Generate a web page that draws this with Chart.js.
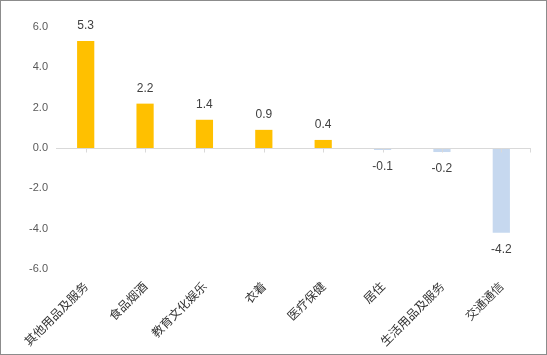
<!DOCTYPE html>
<html>
<head>
<meta charset="utf-8">
<script src="https://cdn.jsdelivr.net/npm/chart.js@4/dist/chart.umd.min.js"></script>
<style>
  html, body { margin: 0; padding: 0; background: #fff; }
  #wrap { position: absolute; left: 0; top: 0; width: 547px; height: 355px; box-sizing: border-box; border: 1px solid #8c8c8c; background: #fff; }
  canvas { display: block; }
</style>
</head>
<body>
<div id="wrap"><canvas id="c"></canvas></div>
<script>
const categories = ["其他用品及服务", "食品烟酒", "教育文化娱乐", "衣着", "医疗保健", "居住", "生活用品及服务", "交通通信"];
const values = [5.3, 2.2, 1.4, 0.9, 0.4, -0.1, -0.2, -4.2];
const yTicks = [-6, -4, -2, 0, 2, 4, 6];

const POS_COLOR = "#FFC000";
const NEG_COLOR = "#C6D8EF";

const dataLabels = {
  id: "dataLabels",
  afterDatasetsDraw(chart) {
    const ctx = chart.ctx;
    const meta = chart.getDatasetMeta(0);
    ctx.save();
    ctx.font = "12px 'Liberation Sans', Arial, sans-serif";
    ctx.fillStyle = "#404040";
    ctx.textAlign = "center";
    ctx.textBaseline = "middle";
    meta.data.forEach((bar, i) => {
      const v = values[i];
      const y = v >= 0 ? bar.y - 15 : bar.y + 17;
      ctx.fillText(v.toFixed(1), bar.x, y);
    });
    ctx.restore();
  }
};

const zeroTicks = {
  id: "zeroTicks",
  afterDatasetsDraw(chart) {
    const ctx = chart.ctx;
    const xs = chart.scales.x;
    const y0 = Math.round(chart.scales.y.getPixelForValue(0)) + 0.5;
    ctx.save();
    ctx.strokeStyle = "#d9d9d9";
    ctx.lineWidth = 1;
    ctx.beginPath();
    ctx.moveTo(chart.chartArea.left, y0);
    ctx.lineTo(chart.chartArea.right, y0);
    for (let i = 0; i < categories.length; i++) {
      const x = Math.round(xs.getPixelForTick(i)) + 0.5;
      ctx.moveTo(x, y0);
      ctx.lineTo(x, y0 + 4);
    }
    const xr = Math.round(chart.chartArea.right) - 0.5;
    ctx.moveTo(xr, y0);
    ctx.lineTo(xr, y0 + 4);
    ctx.stroke();
    ctx.restore();
  }
};

new Chart(document.getElementById("c"), {
  type: "bar",
  data: {
    labels: categories,
    datasets: [{
      data: values,
      backgroundColor: values.map(v => v >= 0 ? POS_COLOR : NEG_COLOR),
      barPercentage: 0.29,
      categoryPercentage: 1.0,
      borderWidth: 0
    }]
  },
  options: {
    responsive: true,
    maintainAspectRatio: false,
    animation: false,
    layout: { padding: { left: 0, right: 15, top: 26, bottom: 0 } },
    plugins: {
      legend: { display: false },
      tooltip: { enabled: false }
    },
    scales: {
      x: {
        grid: { display: false, drawTicks: false },
        border: { display: false },
        ticks: {
          minRotation: 45,
          maxRotation: 45,
          autoSkip: false,
          padding: 10,
          color: "#333333",
          font: { family: "'Noto Sans CJK SC', sans-serif", size: 12 }
        },
        afterFit(scale) { scale.height = 85; }
      },
      y: {
        min: -6,
        max: 6,
        afterBuildTicks(scale) { scale.ticks = yTicks.map(v => ({ value: v })); },
        grid: { display: false, drawTicks: false },
        border: { display: false },
        ticks: {
          padding: 8,
          color: "#595959",
          font: { family: "'Liberation Sans', Arial, sans-serif", size: 11 },
          callback: v => Number(v).toFixed(1)
        },
        afterFit(scale) { scale.width = 55; }
      }
    }
  },
  plugins: [dataLabels, zeroTicks]
});
</script>
</body>
</html>
